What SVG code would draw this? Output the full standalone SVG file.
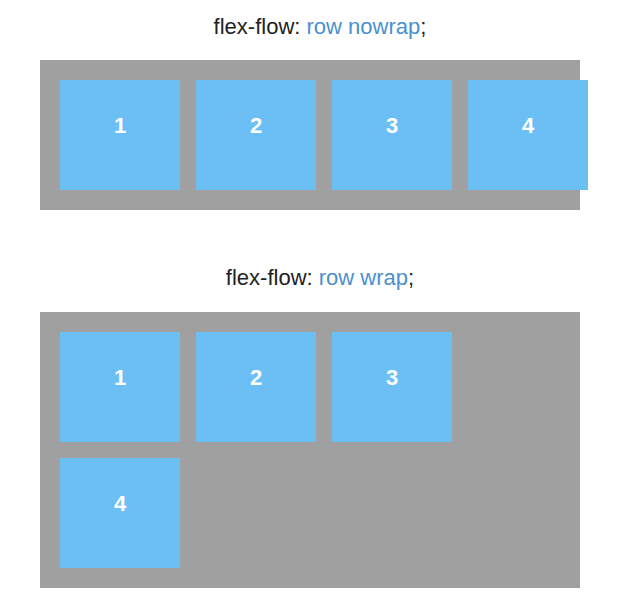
<svg xmlns="http://www.w3.org/2000/svg" width="640" height="610" viewBox="0 0 640 610">
<style>
.c{fill:#a0a0a0}
.b{fill:#6cbff5}
.n{font-family:"Liberation Sans",Arial,sans-serif;font-size:22px;font-weight:bold;fill:#fff;text-anchor:middle}
.t{font-family:"Liberation Sans",Arial,sans-serif;font-size:22px;fill:#222;text-anchor:middle}
.k{fill:#4a90d0}
</style>
<rect width="640" height="610" fill="#fff"/>
<text class="t" x="320" y="34">flex-flow: <tspan class="k">row nowrap</tspan>;</text>
<g id="container1"><rect class="c" x="40" y="60" width="540" height="150"/></g>
<g id="n1a"><rect class="b" x="60" y="80" width="120" height="110"/><text class="n" x="120" y="133">1</text></g>
<g id="n2a"><rect class="b" x="196" y="80" width="120" height="110"/><text class="n" x="256" y="133">2</text></g>
<g id="n3a"><rect class="b" x="332" y="80" width="120" height="110"/><text class="n" x="392" y="133">3</text></g>
<g id="n4a"><rect class="b" x="468" y="80" width="120" height="110"/><text class="n" x="528" y="133">4</text></g>
<text class="t" x="320" y="285">flex-flow: <tspan class="k">row wrap</tspan>;</text>
<g id="container2"><rect class="c" x="40" y="312" width="540" height="276"/></g>
<g id="n1b"><rect class="b" x="60" y="332" width="120" height="110"/><text class="n" x="120" y="385">1</text></g>
<g id="n2b"><rect class="b" x="196" y="332" width="120" height="110"/><text class="n" x="256" y="385">2</text></g>
<g id="n3b"><rect class="b" x="332" y="332" width="120" height="110"/><text class="n" x="392" y="385">3</text></g>
<g id="n4b"><rect class="b" x="60" y="458" width="120" height="110"/><text class="n" x="120" y="511">4</text></g>
<g id="connectors"/>
</svg>
